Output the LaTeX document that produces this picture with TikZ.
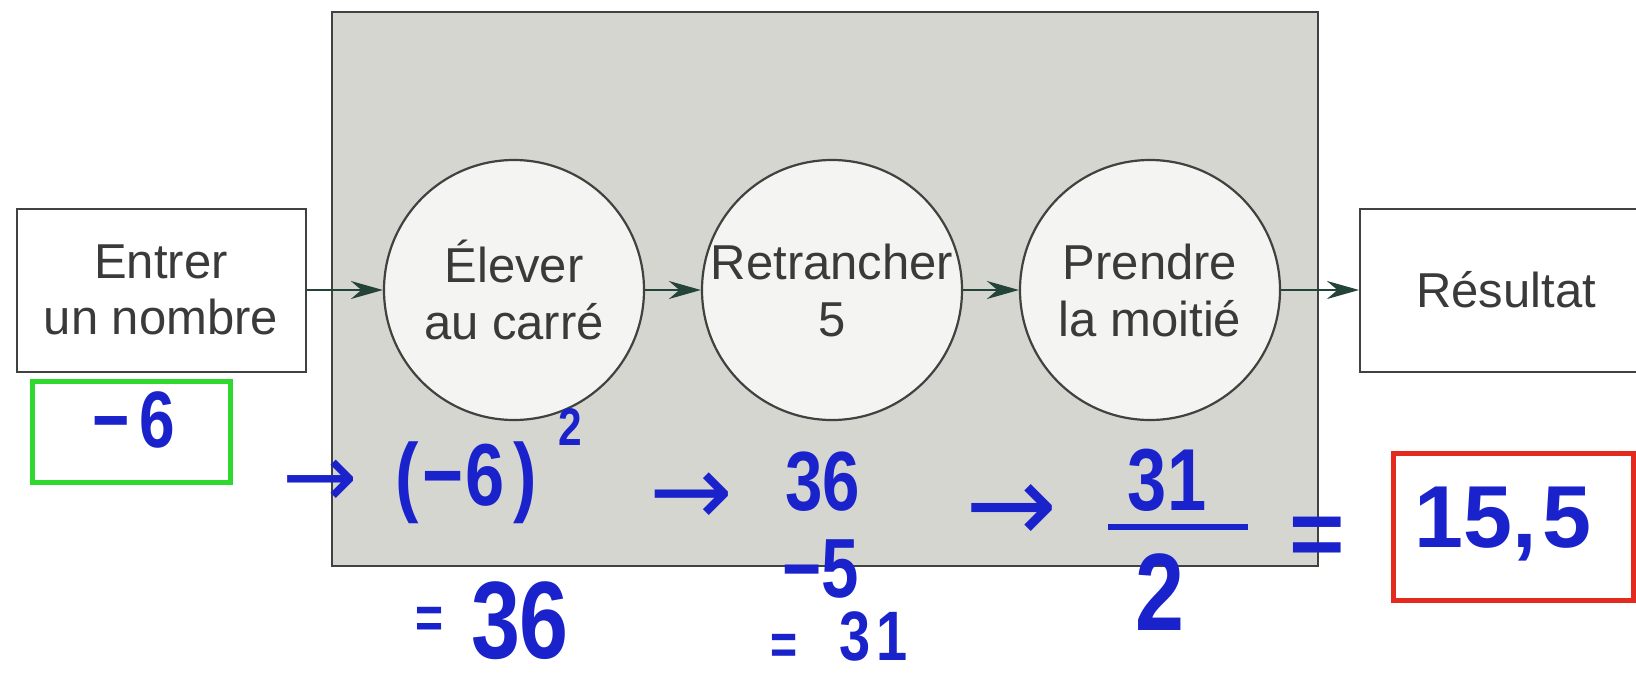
\documentclass[tikz,border=0pt]{standalone}
\usepackage{fontspec}
\setmainfont{Liberation Sans}
\newfontfamily\handfont[FakeStretch=0.8]{Liberation Sans}
\newfontfamily\arrfont{DejaVu Sans}
\usetikzlibrary{arrows.meta}
\definecolor{boxgray}{HTML}{D6D6D1}
\definecolor{linegray}{HTML}{3F423F}
\definecolor{txtgray}{HTML}{3A3A3A}
\definecolor{circfill}{HTML}{F4F4F2}
\definecolor{arrgreen}{HTML}{24443A}
\definecolor{penblue}{HTML}{1A22CC}
\definecolor{pengreen}{HTML}{2ED82E}
\definecolor{penred}{HTML}{E42A1E}
\begin{document}
\begin{tikzpicture}[x=1pt,y=-1pt,
  machinebox/.style={draw=linegray, line width=2.5pt, fill=boxgray, minimum width=986pt, minimum height=554pt, inner sep=0pt},
  procbox/.style={draw=linegray, line width=2pt, fill=white, minimum width=289pt, minimum height=163pt, inner sep=0pt, align=center, text=txtgray, font=\fontsize{49}{56}\selectfont},
  proccirc/.style={circle, draw=linegray, line width=2.2pt, fill=circfill, minimum size=260pt, inner sep=-20pt, align=center, text=txtgray, font=\fontsize{49}{57}\selectfont},
  flow/.style={draw=arrgreen, line width=2.2pt, -{Stealth[length=32pt,width=18pt]}},
  pen/.style={text=penblue, inner sep=0pt, anchor=base, font=\handfont\bfseries\fontsize{#1}{#1}\selectfont},
  penwide/.style={text=penblue, inner sep=0pt, anchor=base, font=\bfseries\fontsize{#1}{#1}\selectfont},
  penarrow/.style={text=penblue, inner sep=0pt, anchor=base, font=\arrfont\fontsize{#1}{#1}\selectfont},
  markbox/.style={draw=#1, line width=5pt, inner sep=0pt, fill=none}
]
\useasboundingbox (0,0) rectangle (1636,680);
\fill[white] (0,0) rectangle (1636,680);

\node[machinebox] (machine) at (825,289) {};

\node[procbox] (in) at (161,290) {Entrer\\un nombre};
\node[proccirc] (c1) at (514,290) {Élever\\au carré};
\node[proccirc] (c2) at (832,290) {Retrancher\\5};
\node[proccirc] (c3) at (1150,290) {Prendre\\la moitié};
\node[procbox, minimum width=292pt] (out) at (1506,290) {Résultat};

\draw[flow] (in.east) -- (c1.west);
\draw[flow] (c1.east) -- (c2.west);
\draw[flow] (c2.east) -- (c3.west);
\draw[flow] (c3.east) -- (out.west);

% handwritten annotations
\node[markbox=pengreen, minimum width=198pt, minimum height=101pt] (gbox) at (131,432) {};
\node[pen=80] (v0) at (134,447) {−\kern10pt 6};

\node[penarrow=90] (a1) at (320,507) {→};
\node[pen=88] (sq) at (466,505) {(\kern4pt−\kern2pt6\kern8pt)};
\node[pen=53] (ex) at (570,445) {2};
\node[pen=60] (eq1) at (430,638) {=};
\node[pen=110] (r1) at (520,658) {36};

\node[penarrow=100] (a2) at (691,525) {→};
\node[pen=84] (n36) at (823,510) {36};
\node[pen=84] (m5) at (821,597) {−5};
\node[pen=58] (eq2) at (784,664) {=};
\node[pen=70] (r2) at (874,660) {3\kern6pt1};

\node[penarrow=110] (a3) at (1012,542) {→};
\node[pen=88] (num) at (1167,510) {31};
\coordinate (barl) at (1108,527);
\coordinate (barr) at (1248,527);
\draw[draw=penblue, line width=6pt] (barl) -- (barr);
\node[pen=110] (den) at (1160,630) {2};
\node[penwide=95] (eq3) at (1317,566) {=};

\node[markbox=penred, minimum width=240pt, minimum height=147pt] (rbox) at (1513,526.5) {};
\node[penwide=88] (res) at (1503,547) {15,\kern6pt5};
\end{tikzpicture}
\end{document}
